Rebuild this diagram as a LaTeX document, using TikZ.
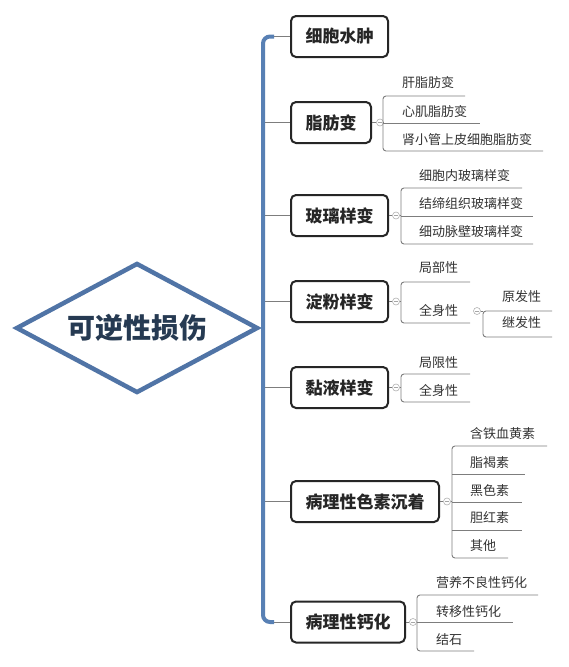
\documentclass[tikz,border=0pt]{standalone}
\usepackage{fontspec}
\newfontfamily\cjk{Noto Sans CJK SC}
\usetikzlibrary{shapes.geometric,calc}
\definecolor{trunkblue}{RGB}{88,128,180}
\definecolor{diamblue}{RGB}{80,116,166}
\definecolor{navy}{RGB}{38,58,82}
\definecolor{txt}{RGB}{51,51,51}
\definecolor{ln}{RGB}{125,125,125}
\begin{document}
\begin{tikzpicture}[x=1pt,y=-1pt,
  topic/.style={draw=black!85, line width=2pt, rounded corners=5pt, fill=white,
    inner xsep=14.5pt, inner ysep=0pt, minimum height=41pt, anchor=west,
    font=\cjk\bfseries\fontsize{17}{20}\selectfont, text=black!85},
  sub/.style={inner sep=0pt, anchor=west, font=\cjk\fontsize{13}{15}\selectfont, text=txt},
  ul/.style={draw=ln, line width=0.9pt},
  br/.style={ul, rounded corners=3pt},
  tog/.style={circle, draw=black!30, line width=0.6pt, minimum size=7pt, inner sep=0pt, fill=white,
    path picture={\draw[black!35, line width=0.5pt]
      ([xshift=-2pt]path picture bounding box.center) -- ([xshift=2pt]path picture bounding box.center);}},
  conn/.style={draw=ln, line width=0.9pt},
]
\fill[white] (0,0) rectangle (568,667);
\useasboundingbox (0,0) rectangle (568,667);

% root
\node[diamond, draw=diamblue, line width=4.5pt, aspect=1.86, minimum width=242pt, minimum height=130pt,
  inner sep=0pt, font=\cjk\bfseries\fontsize{28}{32}\selectfont, text=navy] (root) at (137,328) {可逆性损伤};

% level-1 topics
\node[topic] (b1) at (290,36.5) {细胞水肿};
\node[topic] (b2) at (290,122.5) {脂肪变};
\node[topic] (b3) at (290,215.5) {玻璃样变};
\node[topic] (b4) at (290,301.5) {淀粉样变};
\node[topic] (b5) at (290,387.5) {黏液样变};
\node[topic] (b6) at (290,501.5) {病理性色素沉着};
\node[topic] (b7) at (290,622) {病理性钙化};

% trunk connectors
\draw[conn] (272,36.5) -- (b1.west);
\draw[conn] (272,622) -- (b7.west);
\foreach \b in {b2,b3,b4,b5,b6} \draw[conn] (264,0 |- \b.west) -- (\b.west);
\draw[trunkblue, line width=4pt, rounded corners=7pt] (274,36.5) -- (263,36.5) -- (263,622) -- (274,622);

% toggles
\node[tog] (t2) at ($(b2.east)+(8,0)$) {};
\node[tog] (t3) at ($(b3.east)+(7,0)$) {};
\node[tog] (t4) at ($(b4.east)+(7,0)$) {};
\node[tog] (t5) at ($(b5.east)+(7,0)$) {};
\node[tog] (t6) at ($(b6.east)+(7,0)$) {};
\node[tog] (t7) at ($(b7.east)+(7,0)$) {};
\foreach \b/\t in {b2/t2,b3/t3,b4/t4,b5/t5,b6/t6,b7/t7} \draw[conn] (\b.east) -- (\t);
\draw[conn] (t2) -- (383,122.5);
\draw[conn] (t3) -- (401,215.5);
\draw[conn] (t4) -- (401,301.5);
\draw[conn] (t5) -- (401,387.5);
\draw[conn] (t6) -- (452,501.5);
\draw[conn] (t7) -- (417,622);

% 脂肪变
\node[sub] (c21) at (402,83) {肝脂肪变};
\node[sub] (c22) at (402,112) {心肌脂肪变};
\node[sub] (c23) at (402,140) {肾小管上皮细胞脂肪变};
\draw[br] (465,96) -- (383,96) -- (383,151) -- (543,151);
\draw[ul] (383,123) -- (480,123);

% 玻璃样变
\node[sub] (c31) at (419,176) {细胞内玻璃样变};
\node[sub] (c32) at (419,204) {结缔组织玻璃样变};
\node[sub] (c33) at (419,232) {细动脉壁玻璃样变};
\draw[br] (522,188) -- (401,188) -- (401,244) -- (533,244);
\draw[ul] (401,216) -- (533,216);

% 淀粉样变
\node[sub] (c41) at (419,268) {局部性};
\node[sub] (c42) at (419,311) {全身性};
\draw[br] (470,282) -- (401,282) -- (401,323) -- (470,323);
\node[tog] (t42) at (477,311) {};
\draw[conn] (t42) -- (483,311);
\node[sub] (c421) at (502,297) {原发性};
\node[sub] (c422) at (502,323) {继发性};
\draw[br] (552,311) -- (483,311) -- (483,337) -- (552,337);

% 黏液样变
\node[sub] (c51) at (419,363) {局限性};
\node[sub] (c52) at (419,391) {全身性};
\draw[br] (470,374) -- (401,374) -- (401,402) -- (470,402);

% 病理性色素沉着
\node[sub] (c61) at (470,434) {含铁血黄素};
\node[sub] (c62) at (470,463) {脂褐素};
\node[sub] (c63) at (470,491) {黑色素};
\node[sub] (c64) at (470,518) {胆红素};
\node[sub] (c65) at (470,546) {其他};
\draw[br] (547,446) -- (452,446) -- (452,558) -- (508,558);
\draw[ul] (452,474) -- (525,474);
\draw[ul] (452,502) -- (522,502);
\draw[ul] (452,530) -- (522,530);

% 病理性钙化
\node[sub] (c71) at (436,583) {营养不良性钙化};
\node[sub] (c72) at (436,612) {转移性钙化};
\node[sub] (c73) at (436,640) {结石};
\draw[br] (538,595) -- (417,595) -- (417,651) -- (474,651);
\draw[ul] (417,622) -- (513,622);
\end{tikzpicture}
\end{document}
